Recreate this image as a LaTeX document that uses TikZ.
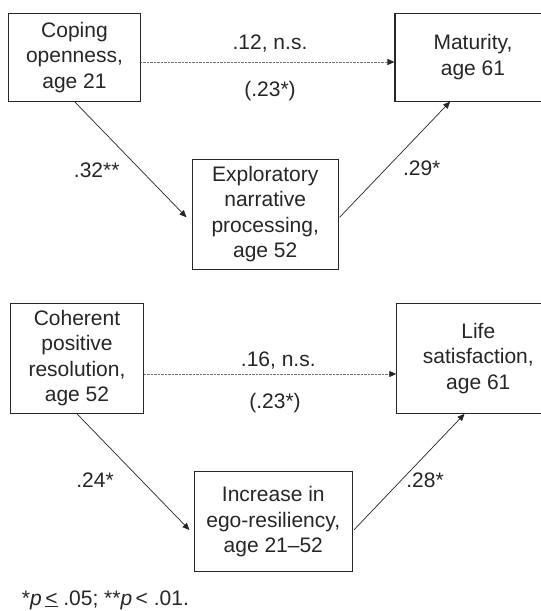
\documentclass[tikz,border=0pt]{standalone}
\usepackage{fontspec}
\setmainfont{Liberation Sans}
\usetikzlibrary{arrows.meta}
\begin{document}
\begin{tikzpicture}[x=1pt,y=-1pt,
  boxnode/.style={draw=black!85,line width=1.1pt,align=center,inner sep=0pt,
    font=\fontsize{21}{25.5}\selectfont,text=black!85},
  lbl/.style={font=\fontsize{21}{25.5}\selectfont,text=black!85,inner sep=0pt},
  solidarrow/.style={draw=black!85,line width=0.7pt,-{Triangle[length=7pt,width=6pt]}},
  dotarrow/.style={draw=black!55,line width=0.8pt,dash pattern=on 0.7pt off 0.7pt,-{Triangle[length=7pt,width=6pt,fill=black!85,color=black!85]}}]
\useasboundingbox (0,0) rectangle (541,611);
\fill[white] (0,0) rectangle (541,611);
% top diagram
\node[boxnode,minimum width=132.4pt,minimum height=87.7pt] (cope) at (74.5,57.2) {Coping\\openness,\\age 21};
\node[boxnode,minimum width=156pt,minimum height=87.7pt] (mat) at (473,57.2) {Maturity,\\age 61};
\node[boxnode,minimum width=146.3pt,minimum height=110pt] (expl) at (265.2,214.3) {Exploratory\\narrative\\processing,\\age 52};
\draw[dotarrow] ([yshift=-4.8pt]cope.east) -- ([yshift=-4.8pt]mat.west);
\draw[solidarrow] (cope.south) -- ([shift={(-5pt,-3pt)}]expl.west);
\draw[solidarrow] ([shift={(0.7pt,-3pt)}]expl.east) -- ([xshift=55.7pt]mat.south west);
\node[lbl] (l1) at (270,43.3) {.12, n.s.};
\node[lbl] (l2) at (270,90.7) {(.23*)};
\node[lbl] (l3) at (96.7,170) {.32**};
\node[lbl] (l4) at (421.7,168) {.29*};
% bottom diagram
\node[boxnode,minimum width=132.6pt,minimum height=110pt] (coh) at (77,358.3) {Coherent\\positive\\resolution,\\age 52};
\node[boxnode,minimum width=163pt,minimum height=110pt] (life) at (478.3,358.3) {Life\\satisfaction,\\age 61};
\node[boxnode,minimum width=158pt,minimum height=100pt] (incr) at (273.3,521.7) {Increase in\\ego-resiliency,\\age 21--52};
\draw[dotarrow] ([yshift=-15.7pt]coh.east) -- ([yshift=-15.7pt]life.west);
\draw[solidarrow] (coh.south) -- ([shift={(-4.3pt,-8.3pt)}]incr.west);
\draw[solidarrow] ([shift={(1pt,-8.3pt)}]incr.east) -- ([xshift=68.3pt]life.south west);
\node[lbl] (l5) at (278.3,360.7) {.16, n.s.};
\node[lbl] (l6) at (275,403.3) {(.23*)};
\node[lbl] (l7) at (95,480) {.24*};
\node[lbl] (l8) at (425,480) {.28*};
% footnote
\node[lbl,anchor=west] (foot) at (21.7,600) {*\textit{p}\,\underline{<} .05; **\textit{p}\,< .01.};
\end{tikzpicture}
\end{document}
